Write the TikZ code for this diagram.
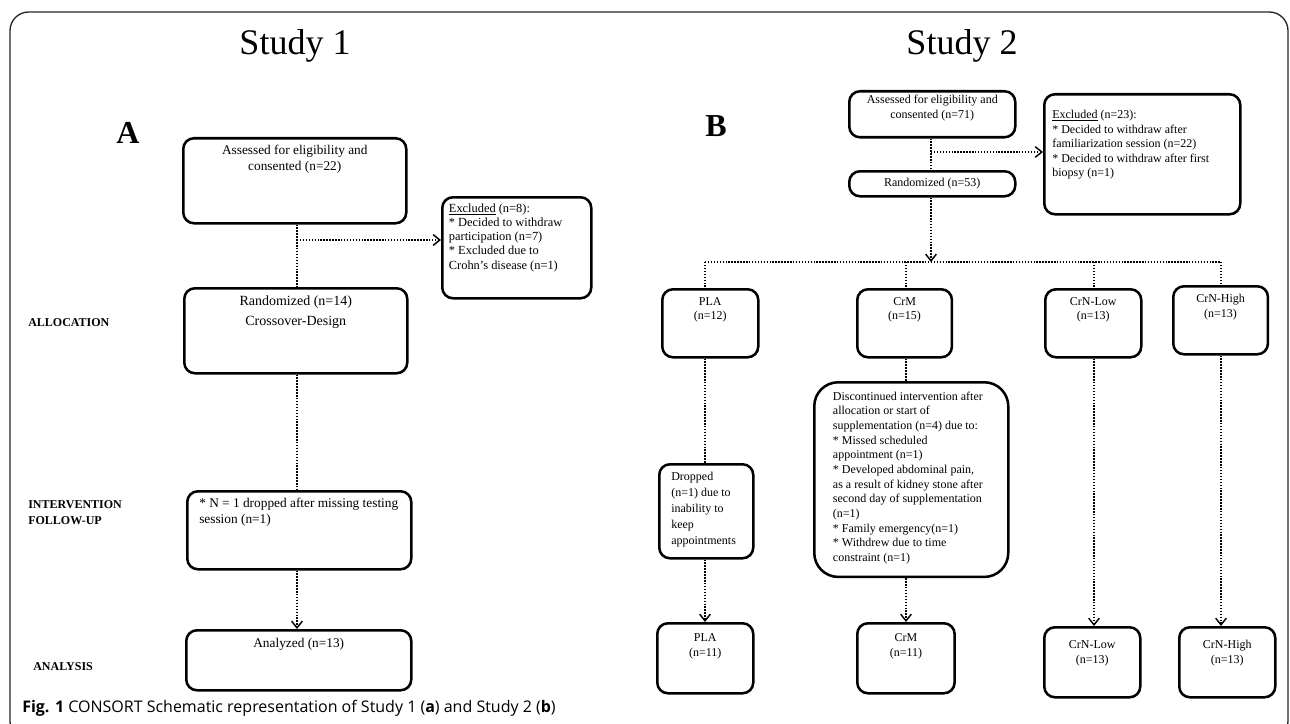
\documentclass[tikz,border=0pt]{standalone}
\usepackage{fontspec}
\setmainfont{Liberation Serif}
\newfontfamily\capfont{Open Sans}
\usetikzlibrary{arrows.meta}
\newcommand\sone{\fontsize{10}{12}\selectfont}
\newcommand\stwo{\fontsize{9}{11}\selectfont}
\newcommand\lab{\fontsize{9}{12}\selectfont\bfseries}
\begin{document}
\begin{tikzpicture}[x=0.75pt,y=-0.75pt,
  bx/.style={draw, line width=1.9pt, rounded corners=8pt, inner sep=0pt, anchor=north west},
  bxr/.style={draw, line width=1.9pt, rounded corners=18pt, inner sep=0pt, anchor=north west},
  dl/.style={line width=1.2pt, dash pattern=on 1.1pt off 1.1pt},
  ar/.style={dl, -{Straight Barb[length=5pt,width=8pt,line width=1.1pt]}},
  lbl/.style={anchor=west, inner sep=0pt, font=\lab, align=left}]
\useasboundingbox (0,0) rectangle (1290,724);
\begin{scope}
\clip (0,0) rectangle (1290,724);
\draw[line width=1pt, black!85, rounded corners=14pt] (10,12) rectangle (1288,740);
\end{scope}

% titles
\node (t1) at (295,46) {\fontsize{27}{30}\selectfont Study 1};
\node (t2) at (962,46) {\fontsize{27}{30}\selectfont Study 2};
\node (A) at (128,133) {\fontsize{24}{28}\selectfont\bfseries A};
\node (B) at (716,126) {\fontsize{24}{28}\selectfont\bfseries B};

% side labels
\node[lbl] (allo) at (28,323) {ALLOCATION};
\node[lbl] (intv) at (28,513) {INTERVENTION\\FOLLOW-UP};
\node[lbl] (anal) at (33,667) {ANALYSIS};

% ---------- Study 1 ----------
\node[bx, font=\sone] (s1a) at (182,137) {\parbox[c][63.75pt][t]{167.25pt}{\centering\vspace*{5pt}Assessed for eligibility and\\consented (n=22)}};
\node[bx] (s1ex) at (441,196) {\parbox[c][75.75pt][t]{111.75pt}{\fontsize{9.3}{10.6}\selectfont\raggedright\leftskip=5pt\vspace*{5pt}\underline{Excluded} (n=8):\par * Decided to withdraw\par participation (n=7)\par * Excluded due to\par Crohn’s disease (n=1)\par}};
\node[bx, font=\sone] (s1r) at (183,287) {\parbox[c][63.75pt][t]{167.25pt}{\centering\fontsize{10.5}{15}\selectfont\vspace*{6pt}Randomized (n=14)\\Crossover-Design}};
\node[bx, font=\sone] (s1i) at (186,490) {\parbox[c][58.5pt][t]{168pt}{\raggedright\leftskip=9pt\vspace*{5pt}* N = 1 dropped after missing testing\par session (n=1)\par}};
\node[bx, font=\sone] (s1an) at (185,629) {\parbox[c][45pt][t]{168.75pt}{\centering\vspace*{6pt}Analyzed (n=13)}};

\coordinate (j1) at (297,240);
\draw[dl] (s1a.south -| j1) -- (s1r.north -| j1);
\draw[ar] (j1) -- (j1 -| s1ex.west);
\draw[dl] (s1r.south -| j1) -- (s1i.north -| j1);
\draw[ar] (s1i.south -| j1) -- (s1an.north -| j1);

% ---------- Study 2 ----------
\node[bx, font=\stwo] (s2a) at (848,90) {\parbox[c][34.5pt][t]{124.5pt}{\centering\vspace*{3pt}Assessed for eligibility and\\consented (n=71)}};
\node[bx] (s2ex) at (1043,93) {\parbox[c][90pt][t]{147pt}{\fontsize{9}{10.9}\selectfont\raggedright\leftskip=6pt\vspace*{12pt}\underline{Excluded} (n=23):\par * Decided to withdraw after\par familiarization session (n=22)\par * Decided to withdraw after first\par biopsy (n=1)\par}};
\node[bx, font=\stwo] (s2r) at (848,170) {\parbox[c][18.75pt][c]{124.5pt}{\centering Randomized (n=53)}};

\coordinate (j2) at (931,152);
\coordinate (hl) at (705,262);
\coordinate (hr) at (1221,262);
\draw[dl] (s2a.south -| j2) -- (s2r.north -| j2);
\draw[ar] (j2) -- (j2 -| s2ex.west);
\draw[ar] (s2r.south -| j2) -- (j2 |- hl);
\draw[dl] (hl) -- (hr);

% row of groups
\node[bx, font=\stwo] (pla) at (661,288) {\parbox[c][51pt][t]{72pt}{\centering\vspace*{6pt}PLA\\(n=12)}};
\node[bx, font=\stwo] (crm) at (856,288) {\parbox[c][51pt][t]{71pt}{\centering\vspace*{6pt}CrM\\(n=15)}};
\node[bx, font=\stwo] (cnl) at (1044,288) {\parbox[c][51pt][t]{72pt}{\centering\vspace*{6pt}CrN-Low\\(n=13)}};
\node[bx, font=\stwo] (cnh) at (1172,285) {\parbox[c][51pt][t]{71pt}{\centering\vspace*{6pt}CrN-High\\(n=13)}};

\draw[dl] (hl) -- (pla.north -| hl);
\coordinate (c2) at (906,262);
\coordinate (c3) at (1094,262);
\draw[dl] (c2) -- (crm.north -| c2);
\draw[dl] (c3) -- (cnl.north -| c3);
\draw[dl] (hr) -- (cnh.north -| hr);

\node[bx] (drop) at (658,463) {\parbox[c][70.5pt][t]{70.5pt}{\fontsize{9}{12}\selectfont\raggedright\leftskip=9pt\vspace*{6pt}Dropped\par (n=1) due to\par inability to\par keep\par appointments\par}};
\node[bxr] (disc) at (813,381) {\parbox[c][146pt][t]{145.5pt}{\fontsize{9}{11}\selectfont\raggedright\leftskip=14pt\vspace*{7pt}Discontinued intervention after\par allocation or start of\par supplementation (n=4) due to:\par * Missed scheduled\par appointment (n=1)\par * Developed abdominal pain,\par as a result of kidney stone after\par second day of supplementation\par (n=1)\par * Family emergency(n=1)\par * Withdrew due to time\par constraint (n=1)\par}};

\draw[dl] (pla.south -| hl) -- (drop.north -| hl);
\draw[dl] (crm.south -| c2) -- (disc.north -| c2);

\node[bx, font=\stwo] (plab) at (656,622) {\parbox[c][52.5pt][t]{72pt}{\centering\vspace*{8pt}PLA\\(n=11)}};
\node[bx, font=\stwo] (crmb) at (856,622) {\parbox[c][52.5pt][t]{73pt}{\centering\vspace*{8pt}CrM\\(n=11)}};
\node[bx, font=\stwo] (cnlb) at (1043,626) {\parbox[c][52.5pt][t]{72pt}{\centering\vspace*{10pt}CrN-Low\\(n=13)}};
\node[bx, font=\stwo] (cnhb) at (1178,626) {\parbox[c][52.5pt][t]{72pt}{\centering\vspace*{10pt}CrN-High\\(n=13)}};

\draw[ar] (drop.south -| hl) -- (plab.north -| hl);
\draw[ar] (disc.south -| c2) -- (crmb.north -| c2);
\draw[ar] (cnl.south -| c3) -- (cnlb.north -| c3);
\draw[ar] (cnh.south -| hr) -- (cnhb.north -| hr);

% caption
\node[anchor=base west, inner sep=0pt] (cap) at (22,712) {\capfont\fontsize{12}{14}\selectfont\textbf{Fig. 1} CONSORT Schematic representation of Study 1 (\textbf{a}) and Study 2 (\textbf{b})};
\end{tikzpicture}
\end{document}
